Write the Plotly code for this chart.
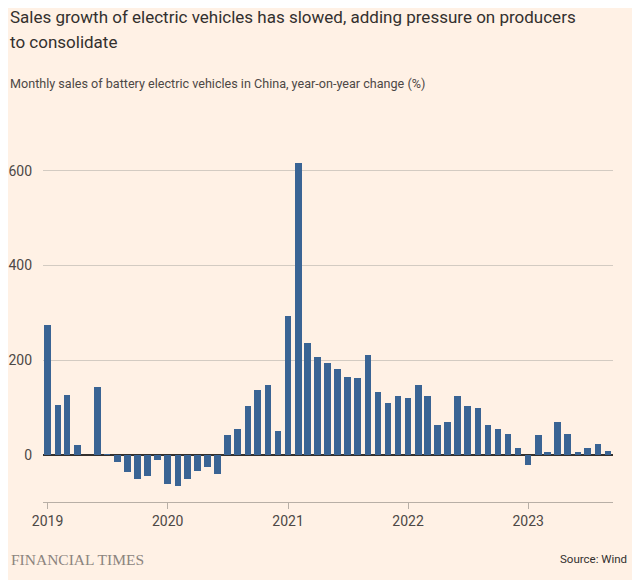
import plotly.graph_objects as go
import pandas as pd

months = pd.date_range("2019-01-01", "2023-09-01", freq="MS").strftime("%Y-%m-%d").tolist()
yoy_change = [
    275, 105, 126, 21, None, 143, 1, -16, -36, -51, -46, -12,
    -62, -67, -51, -34, -27, -40, 42, 54, 102, 136, 148, 51,
    293, 616, 235, 207, 194, 181, 164, 161, 211, 132, 109, 125,
    120, 148, 125, 62, 70, 124, 102, 98, 63, 54, 43, 15,
    -22, 41, 6, 68, 44, 5, 15, 22, 8,
]
year_ticks = ["2019-01-01", "2020-01-01", "2021-01-01", "2022-01-01", "2023-01-01"]
year_labels = ["2019", "2020", "2021", "2022", "2023"]
y_ticks = [0, 200, 400, 600]

# page body has an 8px margin; lay out in window pixels and shift
OFF = 8
W, H = 640 - OFF, 580 - OFF
L, R = 43 - OFF, 613 - OFF
T, B = 146.6 - OFF, 502.4 - OFF

def px_x(p):
    return (p - OFF - L) / (R - L)

def px_y(p):
    return (B - (p - OFF)) / (B - T)

BG = "#fff1e5"
FONT = "Roboto, sans-serif"

fig = go.Figure(go.Bar(
    x=months, y=yoy_change,
    marker=dict(color="#3a6494", line=dict(width=0)),
    width=20 * 86400000,
    hoverinfo="x+y",
))

fig.update_layout(
    width=W, height=H,
    paper_bgcolor=BG, plot_bgcolor=BG,
    margin=dict(l=L, r=W - R, t=T, b=H - B, autoexpand=False),
    showlegend=False,
    bargap=0,
    font=dict(family=FONT, color="#66605c", size=13),
)

fig.update_xaxes(
    type="date",
    range=["2018-12-18", "2023-09-16"],
    tickvals=year_ticks, ticktext=year_labels,
    showgrid=False, zeroline=False,
    showline=True, linecolor="#b8afa6", linewidth=1,
    ticks="outside", ticklen=6, tickcolor="#b8afa6", tickwidth=1,
    tickfont=dict(size=14, color="#4d4845"),
)

fig.update_yaxes(
    range=[-100, 650],
    tickvals=y_ticks,
    showgrid=True, gridcolor="#d3cbc2", gridwidth=1,
    zeroline=True, zerolinecolor="#33302e", zerolinewidth=1.5,
    showline=False, ticks="", ticklabelstandoff=10,
    tickfont=dict(size=14, color="#4d4845"),
)

annotations = [
    dict(text="Sales growth of electric vehicles has slowed, adding pressure on producers",
         x=px_x(8), y=px_y(16), xanchor="left", yanchor="middle", align="left",
         font=dict(size=17, color="#33302e", family=FONT)),
    dict(text="to consolidate",
         x=px_x(8), y=px_y(41), xanchor="left", yanchor="middle", align="left",
         font=dict(size=17, color="#33302e", family=FONT)),
    dict(text="Monthly sales of battery electric vehicles in China, year-on-year change (%)",
         x=px_x(8), y=px_y(83), xanchor="left", yanchor="middle", align="left",
         font=dict(size=12.6, color="#4d4845", family=FONT)),
    dict(text="FINANCIAL TIMES",
         x=px_x(9), y=px_y(560), xanchor="left", yanchor="middle", align="left",
         font=dict(size=15.5, color="#8c847e", family="Liberation Serif, DejaVu Serif, serif")),
    dict(text="Source: Wind",
         x=px_x(629), y=px_y(560), xanchor="right", yanchor="middle", align="right",
         font=dict(size=11.5, color="#33302e", family=FONT)),
]
for a in annotations:
    a.update(xref="paper", yref="paper", showarrow=False)
fig.update_layout(annotations=annotations)

fig.write_html("out.html")
